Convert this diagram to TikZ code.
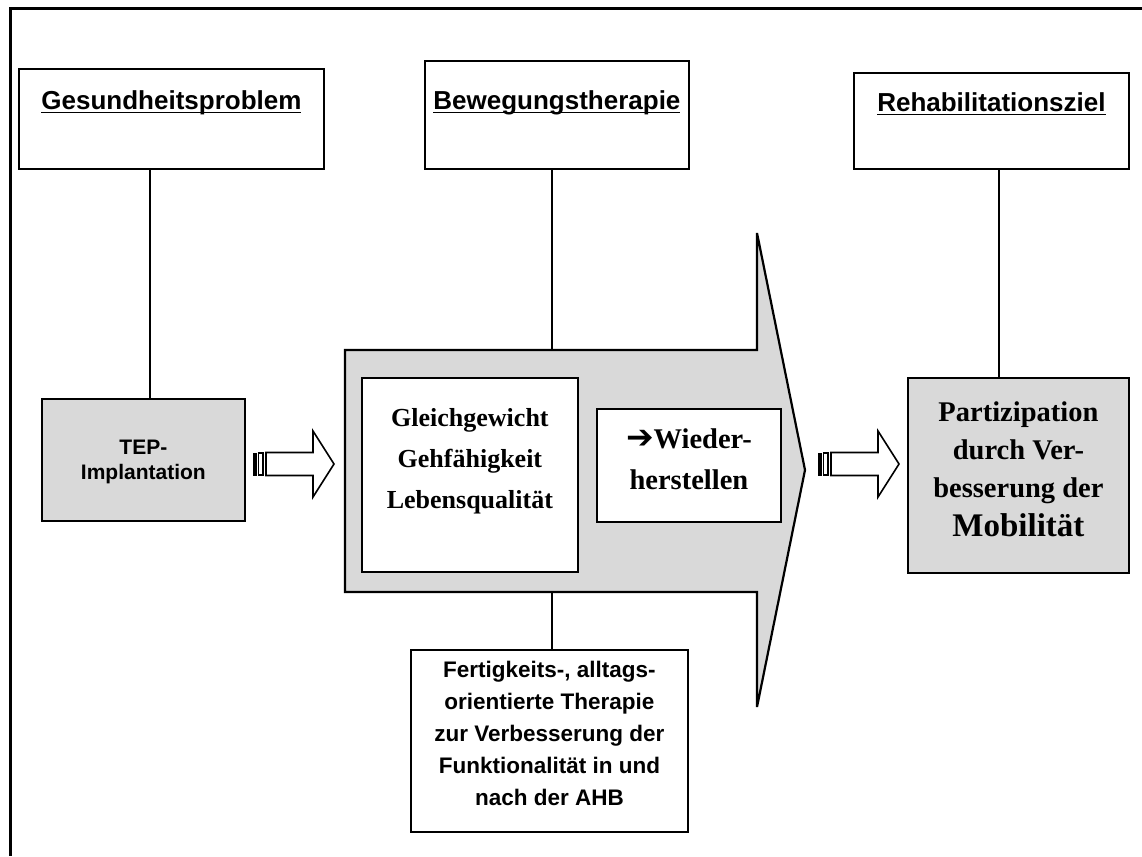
\documentclass[tikz,border=0pt]{standalone}
\usepackage{fontspec}
\setmainfont{Liberation Serif}
\newfontfamily\arialfont{Liberation Sans}
\newfontfamily\symfont{DejaVu Sans}
\definecolor{shade}{RGB}{217,217,217}
% underline with a heavier rule
\newcommand{\thickul}[1]{\setbox0\hbox{#1}\rlap{\rule[-3.5pt]{\wd0}{1.8pt}}\box0}
\begin{document}
\begin{tikzpicture}[x=1pt,y=-1pt,
  box/.style={draw, line width=1.8pt, fill=white, inner sep=0pt, anchor=north west},
  graybox/.style={box, fill=shade},
  head/.style={font=\arialfont\bfseries\fontsize{26}{30}\selectfont, anchor=base, inner sep=0pt},
  sanstext/.style={font=\arialfont\bfseries\fontsize{22.5}{32}\selectfont, align=center, inner sep=0pt},
  seriftext/.style={font=\bfseries\fontsize{26}{41}\selectfont, align=center, inner sep=0pt},
  conn/.style={line width=1.5pt},
  bigarrow/.style={draw, line width=2.2pt, fill=shade, line join=miter},
  stripedarrow/.pic={
    \fill (0,-11.5) rectangle (3.5,11.5);
    \draw[line width=1.2pt] (5.5,-11) rectangle (10,11);
    \draw[line width=1.6pt, fill=white, line join=miter]
      (13,-11.5) -- (60,-11.5) -- (60,-33) -- (81,0) -- (60,33) -- (60,11.5) -- (13,11.5) -- cycle;
  }]
\useasboundingbox (0,0) rectangle (1142,856);

% outer frame
\draw[line width=3pt] (1142,9) -- (10,9) -- (10,856);

% big process arrow
\coordinate (arrtop) at (552,350);
\coordinate (arrbot) at (552,592);
\path[bigarrow] (345,350) -- (757,350) -- (757,233) -- (805,470)
  -- (757,707) -- (757,592) -- (345,592) -- cycle;

% header boxes
\node[box, minimum width=305pt, minimum height=100pt] (gp) at (18,68) {};
\node[box, minimum width=264pt, minimum height=108pt] (bt) at (424,60) {};
\node[box, minimum width=275pt, minimum height=96pt] (rz) at (853,72) {};
\node[head] (gpt) at ([yshift=-42pt]gp.north) {\thickul{Gesundheitsproblem}};
\node[head] (btt) at ([yshift=-50pt]bt.north) {\thickul{Bewegungstherapie}};
\node[head] (rzt) at ([yshift=-40pt]rz.north) {\thickul{Rehabilitationsziel}};

% content boxes
\node[graybox, minimum width=203pt, minimum height=122pt] (tep) at (41,398) {};
\node[sanstext, font=\arialfont\bfseries\fontsize{21}{25}\selectfont] (tept)
  at ([yshift=-2pt]tep.center) {TEP-\\Implantation};

\node[box, minimum width=216pt, minimum height=194pt] (gg) at (361,377) {};
\node[seriftext] (ggt) at ([yshift=14pt]gg.center) {Gleichgewicht\\Gehfähigkeit\\Lebensqualität};

\node[box, minimum width=184pt, minimum height=113pt] (wh) at (596,408) {};
\node[seriftext, font=\bfseries\fontsize{28.5}{41}\selectfont] (wht) at ([yshift=6pt]wh.center)
  {{\symfont\fontsize{33}{41}\selectfont ➔}Wieder-\\herstellen};

\node[graybox, minimum width=221pt, minimum height=195pt] (pm) at (907,377) {};
\node[seriftext, font=\bfseries\fontsize{28.5}{38}\selectfont] (pmt) at ([yshift=6pt]pm.center)
  {Partizipation\\durch Ver-\\besserung der\\[1pt]{\fontsize{33}{40}\selectfont Mobilität}};

\node[box, minimum width=277pt, minimum height=182pt] (ft) at (410,649) {};
\node[sanstext] (ftt) at ([yshift=7pt]ft.center)
  {Fertigkeits-, alltags-\\orientierte Therapie\\zur Verbesserung der\\Funktionalität in und\\nach der AHB};

% connectors
\coordinate (xg) at (150,0);
\coordinate (xr) at (999,0);
\draw[conn] (gp.south -| xg) -- (tep.north -| xg);
\draw[conn] (bt.south -| arrtop) -- (arrtop);
\draw[conn] (rz.south -| xr) -- (pm.north -| xr);
\draw[conn] (arrbot) -- (ft.north -| arrbot);

% striped block arrows
\pic at (253,464) {stripedarrow};
\pic at (818,464) {stripedarrow};
\end{tikzpicture}
\end{document}
